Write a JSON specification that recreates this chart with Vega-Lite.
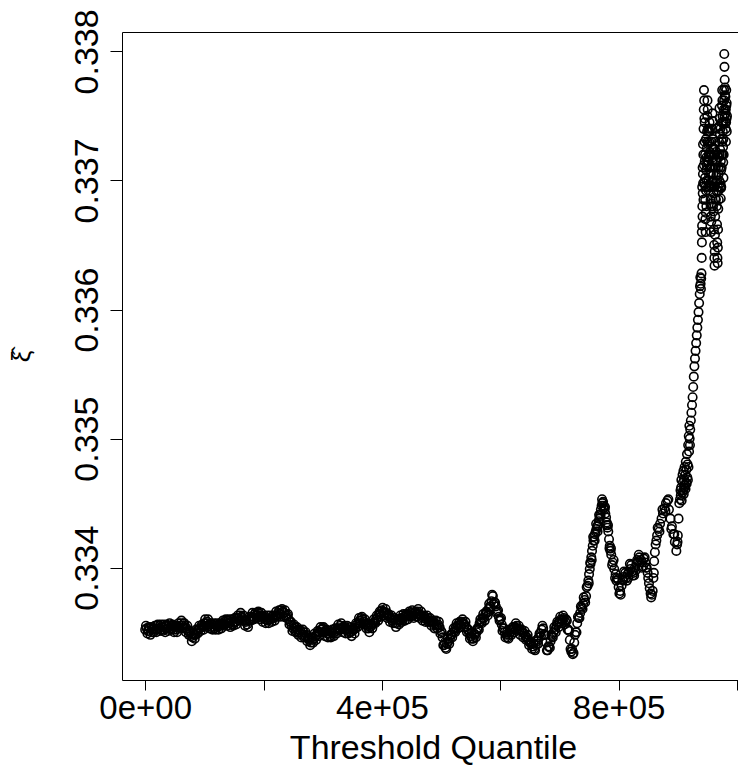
{
"$schema": "https://vega.github.io/schema/vega-lite/v6.json",
"width": 616, "height": 648,
"autosize": {"type": "none"},
"padding": {"left": 122, "top": 32, "right": 0, "bottom": 88},
"background": "white",
"config": {"view": {"stroke": null}, "font": "Liberation Sans"},
"resolve": {"axis": {"x": "independent"}},
"layer": [
{
"data": {"values": [
{"q":0,"xi":0.33352},{"q":2500,"xi":0.33353},{"q":5000,"xi":0.33351},{"q":7500,"xi":0.33353},{"q":10000,"xi":0.3335},
{"q":12500,"xi":0.33352},{"q":15000,"xi":0.33353},{"q":17500,"xi":0.33352},{"q":20000,"xi":0.33355},{"q":22500,"xi":0.33353},
{"q":25000,"xi":0.33355},{"q":27500,"xi":0.33352},{"q":30000,"xi":0.33354},{"q":32500,"xi":0.33352},{"q":35000,"xi":0.33355},
{"q":37500,"xi":0.33353},{"q":40000,"xi":0.33355},{"q":42500,"xi":0.33353},{"q":45000,"xi":0.33355},{"q":47500,"xi":0.33352},
{"q":50000,"xi":0.33354},{"q":52500,"xi":0.33352},{"q":55000,"xi":0.33355},{"q":57500,"xi":0.33354},{"q":60000,"xi":0.33357},
{"q":62500,"xi":0.33355},{"q":65000,"xi":0.33357},{"q":67500,"xi":0.33354},{"q":70000,"xi":0.33353},{"q":72500,"xi":0.33351},
{"q":75000,"xi":0.3335},{"q":77500,"xi":0.33347},{"q":80000,"xi":0.33346},{"q":82500,"xi":0.33348},{"q":85000,"xi":0.33348},
{"q":87500,"xi":0.33351},{"q":90000,"xi":0.33352},{"q":92500,"xi":0.33353},{"q":95000,"xi":0.33355},{"q":97500,"xi":0.33354},
{"q":100000,"xi":0.33357},{"q":102500,"xi":0.33357},{"q":105000,"xi":0.33358},{"q":107500,"xi":0.33356},{"q":110000,"xi":0.33356},
{"q":112500,"xi":0.33354},{"q":115000,"xi":0.33356},{"q":117500,"xi":0.33353},{"q":120000,"xi":0.33355},{"q":122500,"xi":0.33354},
{"q":125000,"xi":0.33356},{"q":127500,"xi":0.33355},{"q":130000,"xi":0.33357},{"q":132500,"xi":0.33356},{"q":135000,"xi":0.33358},
{"q":137500,"xi":0.33357},{"q":140000,"xi":0.33359},{"q":142500,"xi":0.33357},{"q":145000,"xi":0.33358},{"q":147500,"xi":0.33356},
{"q":150000,"xi":0.33358},{"q":152500,"xi":0.33358},{"q":155000,"xi":0.33361},{"q":157500,"xi":0.33361},{"q":160000,"xi":0.33363},
{"q":162500,"xi":0.33362},{"q":165000,"xi":0.33361},{"q":167500,"xi":0.33359},{"q":170000,"xi":0.33358},{"q":172500,"xi":0.33356},
{"q":175000,"xi":0.33359},{"q":177500,"xi":0.3336},{"q":180000,"xi":0.33362},{"q":182500,"xi":0.33362},{"q":185000,"xi":0.33364},
{"q":187500,"xi":0.33363},{"q":190000,"xi":0.33365},{"q":192500,"xi":0.33362},{"q":195000,"xi":0.33363},{"q":197500,"xi":0.33361},
{"q":200000,"xi":0.33362},{"q":202500,"xi":0.3336},{"q":205000,"xi":0.33361},{"q":207500,"xi":0.33359},{"q":210000,"xi":0.3336},
{"q":212500,"xi":0.3336},{"q":215000,"xi":0.33362},{"q":217500,"xi":0.33361},{"q":220000,"xi":0.33363},{"q":222500,"xi":0.33363},
{"q":225000,"xi":0.33365},{"q":227500,"xi":0.33364},{"q":230000,"xi":0.33367},{"q":232500,"xi":0.33366},{"q":235000,"xi":0.33365},
{"q":237500,"xi":0.33363},{"q":240000,"xi":0.33363},{"q":242500,"xi":0.3336},{"q":245000,"xi":0.33358},{"q":247500,"xi":0.33355},
{"q":250000,"xi":0.33353},{"q":252500,"xi":0.33354},{"q":255000,"xi":0.33351},{"q":257500,"xi":0.33352},{"q":260000,"xi":0.3335},
{"q":262500,"xi":0.33351},{"q":265000,"xi":0.33348},{"q":267500,"xi":0.3335},{"q":270000,"xi":0.33347},{"q":272500,"xi":0.33348},
{"q":275000,"xi":0.33345},{"q":277500,"xi":0.33344},{"q":280000,"xi":0.33342},{"q":282500,"xi":0.33344},{"q":285000,"xi":0.33345},
{"q":287500,"xi":0.33347},{"q":290000,"xi":0.33348},{"q":292500,"xi":0.3335},{"q":295000,"xi":0.3335},{"q":297500,"xi":0.33352},
{"q":300000,"xi":0.33353},{"q":302500,"xi":0.3335},{"q":305000,"xi":0.33351},{"q":307500,"xi":0.33349},{"q":310000,"xi":0.33349},
{"q":312500,"xi":0.33347},{"q":315000,"xi":0.3335},{"q":317500,"xi":0.33349},{"q":320000,"xi":0.33352},{"q":322500,"xi":0.33351},
{"q":325000,"xi":0.33353},{"q":327500,"xi":0.33353},{"q":330000,"xi":0.33355},{"q":332500,"xi":0.33353},{"q":335000,"xi":0.33354},
{"q":337500,"xi":0.33352},{"q":340000,"xi":0.33353},{"q":342500,"xi":0.33351},{"q":345000,"xi":0.33352},{"q":347500,"xi":0.3335},
{"q":350000,"xi":0.33351},{"q":352500,"xi":0.33352},{"q":355000,"xi":0.33353},{"q":357500,"xi":0.33356},{"q":360000,"xi":0.33357},
{"q":362500,"xi":0.33359},{"q":365000,"xi":0.33361},{"q":367500,"xi":0.3336},{"q":370000,"xi":0.33358},{"q":372500,"xi":0.33356},
{"q":375000,"xi":0.33355},{"q":377500,"xi":0.33353},{"q":380000,"xi":0.33354},{"q":382500,"xi":0.33355},{"q":385000,"xi":0.33357},
{"q":387500,"xi":0.33358},{"q":390000,"xi":0.3336},{"q":392500,"xi":0.33361},{"q":395000,"xi":0.33364},{"q":397500,"xi":0.33364},
{"q":400000,"xi":0.33367},{"q":402500,"xi":0.33366},{"q":405000,"xi":0.33365},{"q":407500,"xi":0.33365},{"q":410000,"xi":0.33363},
{"q":412500,"xi":0.33362},{"q":415000,"xi":0.33361},{"q":417500,"xi":0.33359},{"q":420000,"xi":0.3336},{"q":422500,"xi":0.33357},
{"q":425000,"xi":0.33357},{"q":427500,"xi":0.33359},{"q":430000,"xi":0.33359},{"q":432500,"xi":0.33361},{"q":435000,"xi":0.3336},
{"q":437500,"xi":0.33362},{"q":440000,"xi":0.33363},{"q":442500,"xi":0.33362},{"q":445000,"xi":0.33364},{"q":447500,"xi":0.33363},
{"q":450000,"xi":0.33365},{"q":452500,"xi":0.33363},{"q":455000,"xi":0.33365},{"q":457500,"xi":0.33364},{"q":460000,"xi":0.33366},
{"q":462500,"xi":0.33364},{"q":465000,"xi":0.33363},{"q":467500,"xi":0.33363},{"q":470000,"xi":0.33361},{"q":472500,"xi":0.33362},
{"q":475000,"xi":0.3336},{"q":477500,"xi":0.33361},{"q":480000,"xi":0.33359},{"q":482500,"xi":0.33358},{"q":485000,"xi":0.33359},
{"q":487500,"xi":0.33356},{"q":490000,"xi":0.33357},{"q":492500,"xi":0.33355},{"q":495000,"xi":0.33356},{"q":497500,"xi":0.33354},
{"q":500000,"xi":0.33351},{"q":502500,"xi":0.33346},{"q":505000,"xi":0.3334},{"q":507500,"xi":0.33338},{"q":510000,"xi":0.33341},
{"q":512500,"xi":0.33343},{"q":515000,"xi":0.33345},{"q":517500,"xi":0.33348},{"q":520000,"xi":0.3335},{"q":522500,"xi":0.33351},
{"q":525000,"xi":0.33354},{"q":527500,"xi":0.33355},{"q":530000,"xi":0.33357},{"q":532500,"xi":0.33356},{"q":535000,"xi":0.33358},
{"q":537500,"xi":0.33357},{"q":540000,"xi":0.33356},{"q":542500,"xi":0.33354},{"q":545000,"xi":0.33352},{"q":547500,"xi":0.33349},
{"q":550000,"xi":0.33347},{"q":552500,"xi":0.33345},{"q":555000,"xi":0.33345},{"q":557500,"xi":0.33348},{"q":560000,"xi":0.3335},
{"q":562500,"xi":0.33353},{"q":565000,"xi":0.33357},{"q":567500,"xi":0.33358},{"q":570000,"xi":0.33361},{"q":572500,"xi":0.33361},
{"q":575000,"xi":0.33364},{"q":577500,"xi":0.33365},{"q":580000,"xi":0.33368},{"q":582500,"xi":0.3337},{"q":585000,"xi":0.33374},
{"q":587500,"xi":0.33378},{"q":590000,"xi":0.33373},{"q":592500,"xi":0.3337},{"q":595000,"xi":0.33366},{"q":597500,"xi":0.33362},
{"q":600000,"xi":0.3336},{"q":602500,"xi":0.33356},{"q":605000,"xi":0.33353},{"q":607500,"xi":0.3335},{"q":610000,"xi":0.33348},
{"q":612500,"xi":0.33346},{"q":615000,"xi":0.33348},{"q":617500,"xi":0.3335},{"q":620000,"xi":0.33352},{"q":622500,"xi":0.33353},
{"q":625000,"xi":0.33354},{"q":627500,"xi":0.33355},{"q":630000,"xi":0.33353},{"q":632500,"xi":0.33352},{"q":635000,"xi":0.33351},
{"q":637500,"xi":0.3335},{"q":640000,"xi":0.33349},{"q":642500,"xi":0.33347},{"q":645000,"xi":0.33346},{"q":647500,"xi":0.33344},
{"q":650000,"xi":0.33342},{"q":652500,"xi":0.33341},{"q":655000,"xi":0.33339},{"q":657500,"xi":0.33337},{"q":660000,"xi":0.3334},
{"q":662500,"xi":0.33343},{"q":665000,"xi":0.33346},{"q":667500,"xi":0.33349},{"q":670000,"xi":0.33352},{"q":672500,"xi":0.33353},
{"q":675000,"xi":0.33348},{"q":677500,"xi":0.33342},{"q":680000,"xi":0.33336},{"q":682500,"xi":0.33339},{"q":685000,"xi":0.33343},
{"q":687500,"xi":0.33347},{"q":690000,"xi":0.3335},{"q":692500,"xi":0.33352},{"q":695000,"xi":0.33355},{"q":697500,"xi":0.33357},
{"q":700000,"xi":0.33358},{"q":702500,"xi":0.3336},{"q":705000,"xi":0.33359},{"q":707500,"xi":0.33361},{"q":710000,"xi":0.33358},
{"q":712500,"xi":0.33359},{"q":715000,"xi":0.33352},{"q":717500,"xi":0.33344},{"q":720000,"xi":0.33335},{"q":722500,"xi":0.33333},
{"q":725000,"xi":0.33342},{"q":727500,"xi":0.3335},{"q":730000,"xi":0.33357},{"q":732500,"xi":0.33361},{"q":735000,"xi":0.33365},
{"q":737500,"xi":0.33369},{"q":740000,"xi":0.33372},{"q":742500,"xi":0.33375},{"q":745000,"xi":0.33378},{"q":747500,"xi":0.33386},
{"q":748750,"xi":0.3339},{"q":750000,"xi":0.33395},{"q":751250,"xi":0.33399},{"q":752500,"xi":0.33403},{"q":753750,"xi":0.33408},
{"q":755000,"xi":0.33413},{"q":756250,"xi":0.33417},{"q":757500,"xi":0.33421},{"q":758750,"xi":0.33424},{"q":760000,"xi":0.33426},
{"q":761250,"xi":0.33428},{"q":762500,"xi":0.3343},{"q":763750,"xi":0.33432},{"q":765000,"xi":0.33433},{"q":766250,"xi":0.33436},
{"q":767500,"xi":0.33438},{"q":768750,"xi":0.33441},{"q":770000,"xi":0.33445},{"q":771250,"xi":0.33448},{"q":772500,"xi":0.3345},
{"q":773750,"xi":0.33451},{"q":775000,"xi":0.33448},{"q":776250,"xi":0.33445},{"q":777500,"xi":0.33442},{"q":778750,"xi":0.33439},
{"q":780000,"xi":0.33435},{"q":781250,"xi":0.33431},{"q":782500,"xi":0.33428},{"q":783750,"xi":0.33422},{"q":785000,"xi":0.33417},
{"q":786250,"xi":0.33413},{"q":787500,"xi":0.3341},{"q":790000,"xi":0.33404},{"q":792500,"xi":0.33399},{"q":795000,"xi":0.33395},
{"q":796250,"xi":0.3339},{"q":797500,"xi":0.33392},{"q":800000,"xi":0.33385},{"q":801250,"xi":0.3338},{"q":802500,"xi":0.33382},
{"q":805000,"xi":0.33386},{"q":806250,"xi":0.33391},{"q":807500,"xi":0.3339},{"q":810000,"xi":0.33393},{"q":811250,"xi":0.33396},
{"q":812500,"xi":0.33392},{"q":815000,"xi":0.33395},{"q":816250,"xi":0.33392},{"q":817500,"xi":0.33397},{"q":820000,"xi":0.33399},
{"q":821250,"xi":0.33402},{"q":822500,"xi":0.33397},{"q":825000,"xi":0.33396},{"q":826250,"xi":0.33394},{"q":827500,"xi":0.334},
{"q":830000,"xi":0.33403},{"q":831250,"xi":0.33406},{"q":832500,"xi":0.33405},{"q":835000,"xi":0.33408},{"q":836250,"xi":0.33404},
{"q":837500,"xi":0.33406},{"q":840000,"xi":0.33404},{"q":841250,"xi":0.33401},{"q":842500,"xi":0.33407},{"q":845000,"xi":0.33404},
{"q":846250,"xi":0.334},{"q":847500,"xi":0.334},{"q":850000,"xi":0.33392},{"q":851250,"xi":0.33388},{"q":852500,"xi":0.33384},
{"q":855000,"xi":0.33377},{"q":856250,"xi":0.33379},{"q":857500,"xi":0.33382},{"q":858750,"xi":0.33392},{"q":860000,"xi":0.33405},
{"q":861250,"xi":0.33412},{"q":862500,"xi":0.33418},{"q":863750,"xi":0.33421},{"q":865000,"xi":0.33425},{"q":867500,"xi":0.3343},
{"q":870000,"xi":0.33434},{"q":872500,"xi":0.33438},{"q":875000,"xi":0.33442},{"q":877500,"xi":0.33446},{"q":880000,"xi":0.3345},
{"q":882500,"xi":0.33452},{"q":885000,"xi":0.33445},{"q":887500,"xi":0.33438},{"q":890000,"xi":0.33432},{"q":892500,"xi":0.33426},
{"q":895000,"xi":0.3342},{"q":897500,"xi":0.33413},{"q":898750,"xi":0.33418},{"q":900000,"xi":0.33425},{"q":901250,"xi":0.33438},
{"q":902500,"xi":0.3345},{"q":903750,"xi":0.33453},{"q":905000,"xi":0.33456},{"q":907500,"xi":0.33458},{"q":909000,"xi":0.3346},
{"q":910000,"xi":0.33457},{"q":911000,"xi":0.33462},{"q":912000,"xi":0.33464},{"q":913000,"xi":0.33461},{"q":914000,"xi":0.33466},
{"q":915000,"xi":0.33465},{"q":916000,"xi":0.3347},{"q":917000,"xi":0.33468},{"q":918000,"xi":0.33478},{"q":919000,"xi":0.3349},
{"q":920000,"xi":0.335},{"q":921000,"xi":0.33507},{"q":922000,"xi":0.33514},{"q":923000,"xi":0.3352},{"q":924000,"xi":0.33526},
{"q":925000,"xi":0.33532},{"q":926000,"xi":0.3354},{"q":927000,"xi":0.33548},{"q":928000,"xi":0.33556},{"q":929000,"xi":0.33562},
{"q":930000,"xi":0.33568},{"q":931000,"xi":0.33574},{"q":932000,"xi":0.3358},{"q":933000,"xi":0.33586},{"q":934000,"xi":0.33592},
{"q":935000,"xi":0.33598},{"q":936000,"xi":0.33605},{"q":937000,"xi":0.33612},{"q":937500,"xi":0.33618},{"q":938000,"xi":0.33625},
{"q":938500,"xi":0.3362},{"q":939000,"xi":0.33616},{"q":939500,"xi":0.33624},{"q":940000,"xi":0.33628},
{"q":905500,"xi":0.33462},{"q":906000,"xi":0.33468},{"q":908000,"xi":0.33472},{"q":908500,"xi":0.33466},{"q":909500,"xi":0.33475},
{"q":910500,"xi":0.33468},{"q":911500,"xi":0.33478},{"q":912500,"xi":0.33472},{"q":913500,"xi":0.33482},{"q":914500,"xi":0.33476},
{"q":915500,"xi":0.33488},{"q":916500,"xi":0.3348},{"q":917500,"xi":0.33495},{"q":918500,"xi":0.33502},{"q":919500,"xi":0.3351},
{"q":920500,"xi":0.33495},
{"q":940350,"xi":0.3364},{"q":940525,"xi":0.3366},{"q":940700,"xi":0.33652},{"q":941050,"xi":0.33665},{"q":941225,"xi":0.33695},
{"q":941400,"xi":0.3368},{"q":941750,"xi":0.33672},{"q":941925,"xi":0.3371},{"q":942100,"xi":0.3369},{"q":942450,"xi":0.33705},
{"q":942625,"xi":0.33728},{"q":942800,"xi":0.33698},{"q":943150,"xi":0.3372},{"q":943325,"xi":0.33685},{"q":943500,"xi":0.3374},
{"q":943850,"xi":0.33755},{"q":944025,"xi":0.33712},{"q":944200,"xi":0.3377},{"q":944550,"xi":0.33762},{"q":944725,"xi":0.33698},
{"q":944900,"xi":0.33748},{"q":945250,"xi":0.3373},{"q":945425,"xi":0.33745},{"q":945600,"xi":0.33715},{"q":945950,"xi":0.33702},
{"q":946125,"xi":0.3372},{"q":946300,"xi":0.33685},{"q":946650,"xi":0.3367},{"q":946825,"xi":0.33695},{"q":947000,"xi":0.3366},
{"q":947350,"xi":0.33675},{"q":947525,"xi":0.33732},{"q":947700,"xi":0.33692},{"q":948050,"xi":0.33708},{"q":948225,"xi":0.3368},
{"q":948400,"xi":0.33718},{"q":948750,"xi":0.33712},{"q":948925,"xi":0.337},{"q":949100,"xi":0.33725},{"q":949450,"xi":0.33738},
{"q":949625,"xi":0.33715},{"q":949800,"xi":0.3375},{"q":950150,"xi":0.33762},{"q":950325,"xi":0.3373},{"q":950500,"xi":0.33755},
{"q":950850,"xi":0.3374},{"q":951025,"xi":0.33695},{"q":951200,"xi":0.33728},{"q":951550,"xi":0.33715},{"q":951725,"xi":0.33738},
{"q":951900,"xi":0.337},{"q":952250,"xi":0.33692},{"q":952425,"xi":0.3372},{"q":952600,"xi":0.33705},{"q":952950,"xi":0.33718},
{"q":953125,"xi":0.33695},{"q":953300,"xi":0.3373},{"q":953650,"xi":0.33745},{"q":953825,"xi":0.3371},{"q":954000,"xi":0.33738},
{"q":954350,"xi":0.33722},{"q":954525,"xi":0.3374},{"q":954700,"xi":0.3371},{"q":955050,"xi":0.33696},{"q":955225,"xi":0.3372},
{"q":955400,"xi":0.33685},{"q":955750,"xi":0.33672},{"q":955925,"xi":0.33705},{"q":956100,"xi":0.3366},{"q":956450,"xi":0.33668},
{"q":956625,"xi":0.3373},{"q":956800,"xi":0.33682},{"q":957150,"xi":0.33695},{"q":957325,"xi":0.3368},{"q":957500,"xi":0.3371},
{"q":957850,"xi":0.33725},{"q":958025,"xi":0.337},{"q":958200,"xi":0.3374},{"q":958550,"xi":0.33752},{"q":958725,"xi":0.33715},
{"q":958900,"xi":0.33746},{"q":959250,"xi":0.33732},{"q":959425,"xi":0.3368},{"q":959600,"xi":0.33718},{"q":959950,"xi":0.33705},
{"q":960125,"xi":0.33725},{"q":960300,"xi":0.3369},{"q":960650,"xi":0.33676},{"q":960825,"xi":0.337},{"q":961000,"xi":0.33662},
{"q":961350,"xi":0.3365},{"q":961525,"xi":0.3372},{"q":961700,"xi":0.3364},{"q":962050,"xi":0.33634},{"q":962225,"xi":0.33695},
{"q":962400,"xi":0.33645},{"q":962750,"xi":0.33658},{"q":962925,"xi":0.3371},{"q":963100,"xi":0.33672},{"q":963450,"xi":0.33686},
{"q":963625,"xi":0.3373},{"q":963800,"xi":0.33698},{"q":964150,"xi":0.3371},{"q":964325,"xi":0.33685},{"q":964500,"xi":0.33722},
{"q":964850,"xi":0.33716},{"q":965025,"xi":0.3374},{"q":965200,"xi":0.33704},{"q":965550,"xi":0.33692},{"q":965725,"xi":0.33715},
{"q":965900,"xi":0.3368},{"q":966250,"xi":0.33666},{"q":966425,"xi":0.337},{"q":966600,"xi":0.33652},{"q":966950,"xi":0.3364},
{"q":967125,"xi":0.3372},{"q":967300,"xi":0.33636},{"q":967650,"xi":0.33648},{"q":967825,"xi":0.33695},{"q":968000,"xi":0.33662},
{"q":968350,"xi":0.33678},{"q":968525,"xi":0.3371},{"q":968700,"xi":0.33692},{"q":969050,"xi":0.33705},{"q":969225,"xi":0.33685},
{"q":969400,"xi":0.33718},{"q":969750,"xi":0.3373},{"q":969925,"xi":0.337},{"q":970100,"xi":0.33742},{"q":970450,"xi":0.33756},
{"q":970625,"xi":0.3372},{"q":970800,"xi":0.33748},{"q":971150,"xi":0.33736},{"q":971325,"xi":0.33695},{"q":971500,"xi":0.33724},
{"q":971850,"xi":0.3371},{"q":972025,"xi":0.3374},{"q":972200,"xi":0.33698},{"q":972550,"xi":0.33686},{"q":972725,"xi":0.33715},
{"q":972900,"xi":0.33694},{"q":973250,"xi":0.33708},{"q":973425,"xi":0.33695},{"q":973600,"xi":0.3372},{"q":973950,"xi":0.33732},
{"q":974125,"xi":0.3371},{"q":974300,"xi":0.33745},{"q":974650,"xi":0.33758},{"q":974825,"xi":0.3373},{"q":975000,"xi":0.3377},
{"q":975350,"xi":0.33762},{"q":975525,"xi":0.3372},{"q":975700,"xi":0.3375},{"q":976050,"xi":0.33738},{"q":976225,"xi":0.33745},
{"q":976400,"xi":0.33726},{"q":976750,"xi":0.33714},{"q":976925,"xi":0.33732},{"q":977100,"xi":0.33702},{"q":977450,"xi":0.3372},
{"q":977625,"xi":0.33755},{"q":977800,"xi":0.33745},{"q":978150,"xi":0.3377},{"q":978325,"xi":0.33762},{"q":978500,"xi":0.33798},
{"q":978850,"xi":0.33788},{"q":979025,"xi":0.3375},{"q":979200,"xi":0.33778},{"q":979550,"xi":0.33766},{"q":979725,"xi":0.33772},
{"q":979900,"xi":0.33755},{"q":980250,"xi":0.33745},{"q":980425,"xi":0.33765},{"q":980600,"xi":0.33752},{"q":980950,"xi":0.3374},
{"q":981125,"xi":0.33755},{"q":981300,"xi":0.3373},{"q":981650,"xi":0.33745},{"q":981825,"xi":0.3377},{"q":982000,"xi":0.33758},
{"q":982350,"xi":0.33748},{"q":982525,"xi":0.3376},{"q":982700,"xi":0.33738},{"q":983050,"xi":0.3375},
{"q":1250,"xi":0.33355},{"q":3750,"xi":0.33349},{"q":6250,"xi":0.33354},{"q":8750,"xi":0.33348},{"q":11250,"xi":0.33354},
{"q":13750,"xi":0.3335},{"q":16250,"xi":0.33355},{"q":18750,"xi":0.3335},{"q":21250,"xi":0.33356},{"q":23750,"xi":0.33351},
{"q":26250,"xi":0.33356},{"q":28750,"xi":0.33351},{"q":31250,"xi":0.33356},{"q":33750,"xi":0.3335},{"q":36250,"xi":0.33356},
{"q":38750,"xi":0.33351},{"q":41250,"xi":0.33357},{"q":43750,"xi":0.33352},{"q":46250,"xi":0.33356},{"q":48750,"xi":0.3335},
{"q":51250,"xi":0.33355},{"q":53750,"xi":0.3335},{"q":56250,"xi":0.33357},{"q":58750,"xi":0.33353},{"q":61250,"xi":0.33359},
{"q":63750,"xi":0.33353},{"q":66250,"xi":0.33357},{"q":68750,"xi":0.3335},{"q":71250,"xi":0.33355},{"q":73750,"xi":0.33348},
{"q":76250,"xi":0.33351},{"q":78750,"xi":0.33343},{"q":81250,"xi":0.33349},{"q":83750,"xi":0.33345},{"q":86250,"xi":0.33352},
{"q":88750,"xi":0.33349},{"q":91250,"xi":0.33355},{"q":93750,"xi":0.33351},{"q":96250,"xi":0.33356},{"q":98750,"xi":0.33352},
{"q":101250,"xi":0.3336},{"q":103750,"xi":0.33355},{"q":106250,"xi":0.3336},{"q":108750,"xi":0.33353},{"q":111250,"xi":0.33357},
{"q":113750,"xi":0.33352},{"q":116250,"xi":0.33357},{"q":118750,"xi":0.33352},{"q":121250,"xi":0.33357},{"q":123750,"xi":0.33352},
{"q":126250,"xi":0.33357},{"q":128750,"xi":0.33353},{"q":131250,"xi":0.33359},{"q":133750,"xi":0.33355},{"q":136250,"xi":0.3336},
{"q":138750,"xi":0.33355},{"q":141250,"xi":0.3336},{"q":143750,"xi":0.33354},{"q":146250,"xi":0.3336},{"q":148750,"xi":0.33355},
{"q":151250,"xi":0.33361},{"q":153750,"xi":0.33356},{"q":156250,"xi":0.33363},{"q":158750,"xi":0.33359},{"q":161250,"xi":0.33365},
{"q":163750,"xi":0.33359},{"q":166250,"xi":0.33363},{"q":168750,"xi":0.33355},{"q":171250,"xi":0.33359},{"q":173750,"xi":0.33354},
{"q":176250,"xi":0.33362},{"q":178750,"xi":0.33359},{"q":181250,"xi":0.33365},{"q":183750,"xi":0.3336},{"q":186250,"xi":0.33365},
{"q":188750,"xi":0.33361},{"q":191250,"xi":0.33366},{"q":193750,"xi":0.3336},{"q":196250,"xi":0.33365},{"q":198750,"xi":0.33358},
{"q":201250,"xi":0.33363},{"q":203750,"xi":0.33357},{"q":206250,"xi":0.33363},{"q":208750,"xi":0.33357},{"q":211250,"xi":0.33363},
{"q":213750,"xi":0.33358},{"q":216250,"xi":0.33363},{"q":218750,"xi":0.33359},{"q":221250,"xi":0.33366},{"q":223750,"xi":0.33362},
{"q":226250,"xi":0.33367},{"q":228750,"xi":0.33362},{"q":231250,"xi":0.33368},{"q":233750,"xi":0.33362},{"q":236250,"xi":0.33367},
{"q":238750,"xi":0.33361},{"q":241250,"xi":0.33364},{"q":243750,"xi":0.33356},{"q":246250,"xi":0.33358},{"q":248750,"xi":0.33351},
{"q":251250,"xi":0.33356},{"q":253750,"xi":0.3335},{"q":256250,"xi":0.33354},{"q":258750,"xi":0.33348},{"q":261250,"xi":0.33352},
{"q":263750,"xi":0.33346},{"q":266250,"xi":0.33352},{"q":268750,"xi":0.33346},{"q":271250,"xi":0.3335},{"q":273750,"xi":0.33343},
{"q":276250,"xi":0.33346},{"q":278750,"xi":0.3334},{"q":281250,"xi":0.33346},{"q":283750,"xi":0.33342},{"q":286250,"xi":0.33349},
{"q":288750,"xi":0.33344},{"q":291250,"xi":0.33351},{"q":293750,"xi":0.33347},{"q":296250,"xi":0.33354},{"q":298750,"xi":0.3335},
{"q":301250,"xi":0.33354},{"q":303750,"xi":0.33347},{"q":306250,"xi":0.33352},{"q":308750,"xi":0.33346},{"q":311250,"xi":0.33351},
{"q":313750,"xi":0.33346},{"q":316250,"xi":0.33352},{"q":318750,"xi":0.33347},{"q":321250,"xi":0.33353},{"q":323750,"xi":0.33349},
{"q":326250,"xi":0.33356},{"q":328750,"xi":0.33352},{"q":331250,"xi":0.33357},{"q":333750,"xi":0.3335},{"q":336250,"xi":0.33355},
{"q":338750,"xi":0.33349},{"q":341250,"xi":0.33355},{"q":343750,"xi":0.33349},{"q":346250,"xi":0.33354},{"q":348750,"xi":0.33347},
{"q":351250,"xi":0.33353},{"q":353750,"xi":0.33349},{"q":356250,"xi":0.33357},{"q":358750,"xi":0.33354},{"q":361250,"xi":0.33361},
{"q":363750,"xi":0.33357},{"q":366250,"xi":0.33362},{"q":368750,"xi":0.33356},{"q":371250,"xi":0.3336},{"q":373750,"xi":0.33353},
{"q":376250,"xi":0.33357},{"q":378750,"xi":0.3335},{"q":381250,"xi":0.33356},{"q":383750,"xi":0.33353},{"q":386250,"xi":0.3336},
{"q":388750,"xi":0.33357},{"q":391250,"xi":0.33363},{"q":393750,"xi":0.33359},{"q":396250,"xi":0.33366},{"q":398750,"xi":0.33362},
{"q":401250,"xi":0.33369},{"q":403750,"xi":0.33363},{"q":406250,"xi":0.33368},{"q":408750,"xi":0.33361},{"q":411250,"xi":0.33364},
{"q":413750,"xi":0.33358},{"q":416250,"xi":0.33363},{"q":418750,"xi":0.33357},{"q":421250,"xi":0.33361},{"q":423750,"xi":0.33354},
{"q":426250,"xi":0.3336},{"q":428750,"xi":0.33356},{"q":431250,"xi":0.33363},{"q":433750,"xi":0.33358},{"q":436250,"xi":0.33364},
{"q":438750,"xi":0.33359},{"q":441250,"xi":0.33364},{"q":443750,"xi":0.3336},{"q":446250,"xi":0.33366},{"q":448750,"xi":0.33362},
{"q":451250,"xi":0.33367},{"q":453750,"xi":0.33361},{"q":456250,"xi":0.33366},{"q":458750,"xi":0.33362},{"q":461250,"xi":0.33368},
{"q":463750,"xi":0.33361},{"q":466250,"xi":0.33366},{"q":468750,"xi":0.33359},{"q":471250,"xi":0.33363},{"q":473750,"xi":0.33358},
{"q":476250,"xi":0.33363},{"q":478750,"xi":0.33358},{"q":481250,"xi":0.33361},{"q":483750,"xi":0.33355},{"q":486250,"xi":0.33359},
{"q":488750,"xi":0.33353},{"q":491250,"xi":0.33359},{"q":493750,"xi":0.33353},{"q":496250,"xi":0.33358},{"q":498750,"xi":0.33349},
{"q":501250,"xi":0.3335},{"q":503750,"xi":0.3334},{"q":506250,"xi":0.33342},{"q":508750,"xi":0.33337},{"q":511250,"xi":0.33345},
{"q":513750,"xi":0.33341},{"q":516250,"xi":0.33348},{"q":518750,"xi":0.33346},{"q":521250,"xi":0.33353},{"q":523750,"xi":0.3335},
{"q":526250,"xi":0.33357},{"q":528750,"xi":0.33353},{"q":531250,"xi":0.33358},{"q":533750,"xi":0.33354},{"q":536250,"xi":0.3336},
{"q":538750,"xi":0.33354},{"q":541250,"xi":0.33358},{"q":543750,"xi":0.3335},{"q":546250,"xi":0.33352},{"q":548750,"xi":0.33345},
{"q":551250,"xi":0.33349},{"q":553750,"xi":0.33343},{"q":556250,"xi":0.33349},{"q":558750,"xi":0.33346},{"q":561250,"xi":0.33353},
{"q":563750,"xi":0.33352},{"q":566250,"xi":0.3336},{"q":568750,"xi":0.33357},{"q":571250,"xi":0.33364},{"q":573750,"xi":0.33359},
{"q":576250,"xi":0.33366},{"q":578750,"xi":0.33363},{"q":581250,"xi":0.33372},{"q":583750,"xi":0.3337},{"q":586250,"xi":0.33379},
{"q":588750,"xi":0.33372},{"q":591250,"xi":0.33373},{"q":593750,"xi":0.33365},{"q":596250,"xi":0.33367},{"q":598750,"xi":0.33359},
{"q":601250,"xi":0.33361},{"q":603750,"xi":0.33351},{"q":606250,"xi":0.33353},{"q":608750,"xi":0.33346},{"q":611250,"xi":0.3335},
{"q":613750,"xi":0.33345},{"q":616250,"xi":0.33352},{"q":618750,"xi":0.33348},{"q":621250,"xi":0.33354},{"q":623750,"xi":0.3335},
{"q":626250,"xi":0.33357},{"q":628750,"xi":0.33352},{"q":631250,"xi":0.33355},{"q":633750,"xi":0.33348},{"q":636250,"xi":0.33352},
{"q":638750,"xi":0.33346},{"q":641250,"xi":0.33351},{"q":643750,"xi":0.33344},{"q":646250,"xi":0.33348},{"q":648750,"xi":0.3334},
{"q":651250,"xi":0.33343},{"q":653750,"xi":0.33337},{"q":656250,"xi":0.33341},{"q":658750,"xi":0.33336},{"q":661250,"xi":0.33344},
{"q":663750,"xi":0.33341},{"q":666250,"xi":0.33349},{"q":668750,"xi":0.33347},{"q":671250,"xi":0.33355},{"q":673750,"xi":0.33348},
{"q":676250,"xi":0.33348},{"q":678750,"xi":0.33336},{"q":681250,"xi":0.33339},{"q":683750,"xi":0.33338},{"q":686250,"xi":0.33348},
{"q":688750,"xi":0.33346},{"q":691250,"xi":0.33354},{"q":693750,"xi":0.3335},{"q":696250,"xi":0.33358},{"q":698750,"xi":0.33354},
{"q":701250,"xi":0.33362},{"q":703750,"xi":0.33357},{"q":706250,"xi":0.33363},{"q":708750,"xi":0.33356},{"q":711250,"xi":0.3336},
{"q":713750,"xi":0.33352},{"q":716250,"xi":0.33351},{"q":718750,"xi":0.33337},{"q":721250,"xi":0.33337},{"q":723750,"xi":0.33334},
{"q":726250,"xi":0.33348},{"q":728750,"xi":0.3335},{"q":731250,"xi":0.33362},{"q":733750,"xi":0.33361},{"q":736250,"xi":0.3337},
{"q":739000,"xi":0.33368},{"q":741000,"xi":0.33377},{"q":743500,"xi":0.33373},{"q":746000,"xi":0.33385},{"q":749500,"xi":0.33388},
{"q":752000,"xi":0.33404},{"q":754500,"xi":0.33406},{"q":757000,"xi":0.33424},{"q":759500,"xi":0.33421},{"q":762000,"xi":0.33434},
{"q":764500,"xi":0.33428},{"q":767000,"xi":0.33441},{"q":769500,"xi":0.3344},{"q":772000,"xi":0.33453},{"q":774500,"xi":0.33446},
{"q":777000,"xi":0.33447},{"q":779500,"xi":0.33433},{"q":782000,"xi":0.33433},{"q":784500,"xi":0.33415},{"q":787000,"xi":0.33415},
{"q":789000,"xi":0.33402},{"q":791500,"xi":0.33406},{"q":794000,"xi":0.33392},{"q":799000,"xi":0.33391},{"q":803500,"xi":0.33379},
{"q":809000,"xi":0.33397},{"q":814000,"xi":0.3339},{"q":819000,"xi":0.33403},{"q":824000,"xi":0.33394},{"q":829000,"xi":0.33398},
{"q":834000,"xi":0.3341},{"q":839000,"xi":0.334},{"q":844000,"xi":0.33408},{"q":849000,"xi":0.33396},{"q":854000,"xi":0.3338},
{"q":859500,"xi":0.33396},{"q":866000,"xi":0.33431},{"q":869000,"xi":0.33428},{"q":874000,"xi":0.33445},{"q":879000,"xi":0.33444},
{"q":884000,"xi":0.33453},{"q":889000,"xi":0.3343},{"q":894000,"xi":0.33426},{"q":899500,"xi":0.3342},{"q":904500,"xi":0.3346},
{"q":906500,"xi":0.33452}
]},
"mark": {"type": "point", "shape": "circle", "filled": false, "stroke": "black", "strokeWidth": 1.6, "size": 72, "opacity": 1},
"encoding": {
"x": {"field": "q", "type": "quantitative",
"scale": {"domain": [-39200, 1001700], "nice": false, "zero": false},
"axis": {"orient": "bottom", "values": [0, 200000, 400000, 600000, 800000, 1000000],
"labelExpr": "datum.value == 0 ? '0e+00' : datum.value == 400000 ? '4e+05' : datum.value == 800000 ? '8e+05' : ''",
"labelFlush": false, "labelOverlap": false, "grid": false,
"domain": true, "domainColor": "black", "domainWidth": 1,
"ticks": true, "tickColor": "black", "tickWidth": 1, "tickSize": 10,
"labelFont": "Liberation Sans", "labelFontSize": 33, "labelColor": "black",
"labelBaseline": "alphabetic", "labelPadding": 28,
"title": "Threshold Quantile", "titleFont": "Liberation Sans", "titleFontSize": 34, "titleFontWeight": "normal", "titleColor": "black",
"titleX": 311, "titleY": 78, "titleAlign": "center", "titleBaseline": "alphabetic"}},
"y": {"field": "xi", "type": "quantitative",
"scale": {"domain": [0.33313, 0.33815], "nice": false, "zero": false},
"axis": {"orient": "left", "values": [0.334, 0.335, 0.336, 0.337, 0.338], "format": ".3f",
"labelFlush": false, "labelOverlap": false, "grid": false,
"domain": true, "domainColor": "black", "domainWidth": 1,
"ticks": true, "tickColor": "black", "tickWidth": 1, "tickSize": 12,
"labelFont": "Liberation Sans", "labelFontSize": 34, "labelColor": "black",
"labelAngle": 270, "labelAlign": "center", "labelBaseline": "alphabetic", "labelPadding": 13,
"title": "ξ̂", "titleFont": "Liberation Sans", "titleFontSize": 26, "titleFontWeight": "normal", "titleColor": "black",
"titleAngle": 270, "titleX": -101, "titleY": 324, "titleAlign": "center", "titleBaseline": "middle"}}
}
},
{
"data": {"values": [{"q": 0, "xi": 0.3335}]},
"mark": {"type": "point", "opacity": 0},
"encoding": {
"x": {"field": "q", "type": "quantitative",
"scale": {"domain": [-39200, 1001700], "nice": false, "zero": false},
"axis": {"orient": "top", "labels": false, "ticks": false, "grid": false, "domain": true, "domainColor": "black", "domainWidth": 1, "title": null}},
"y": {"field": "xi", "type": "quantitative", "scale": {"domain": [0.33313, 0.33815], "nice": false, "zero": false}}
}
}
]
}
